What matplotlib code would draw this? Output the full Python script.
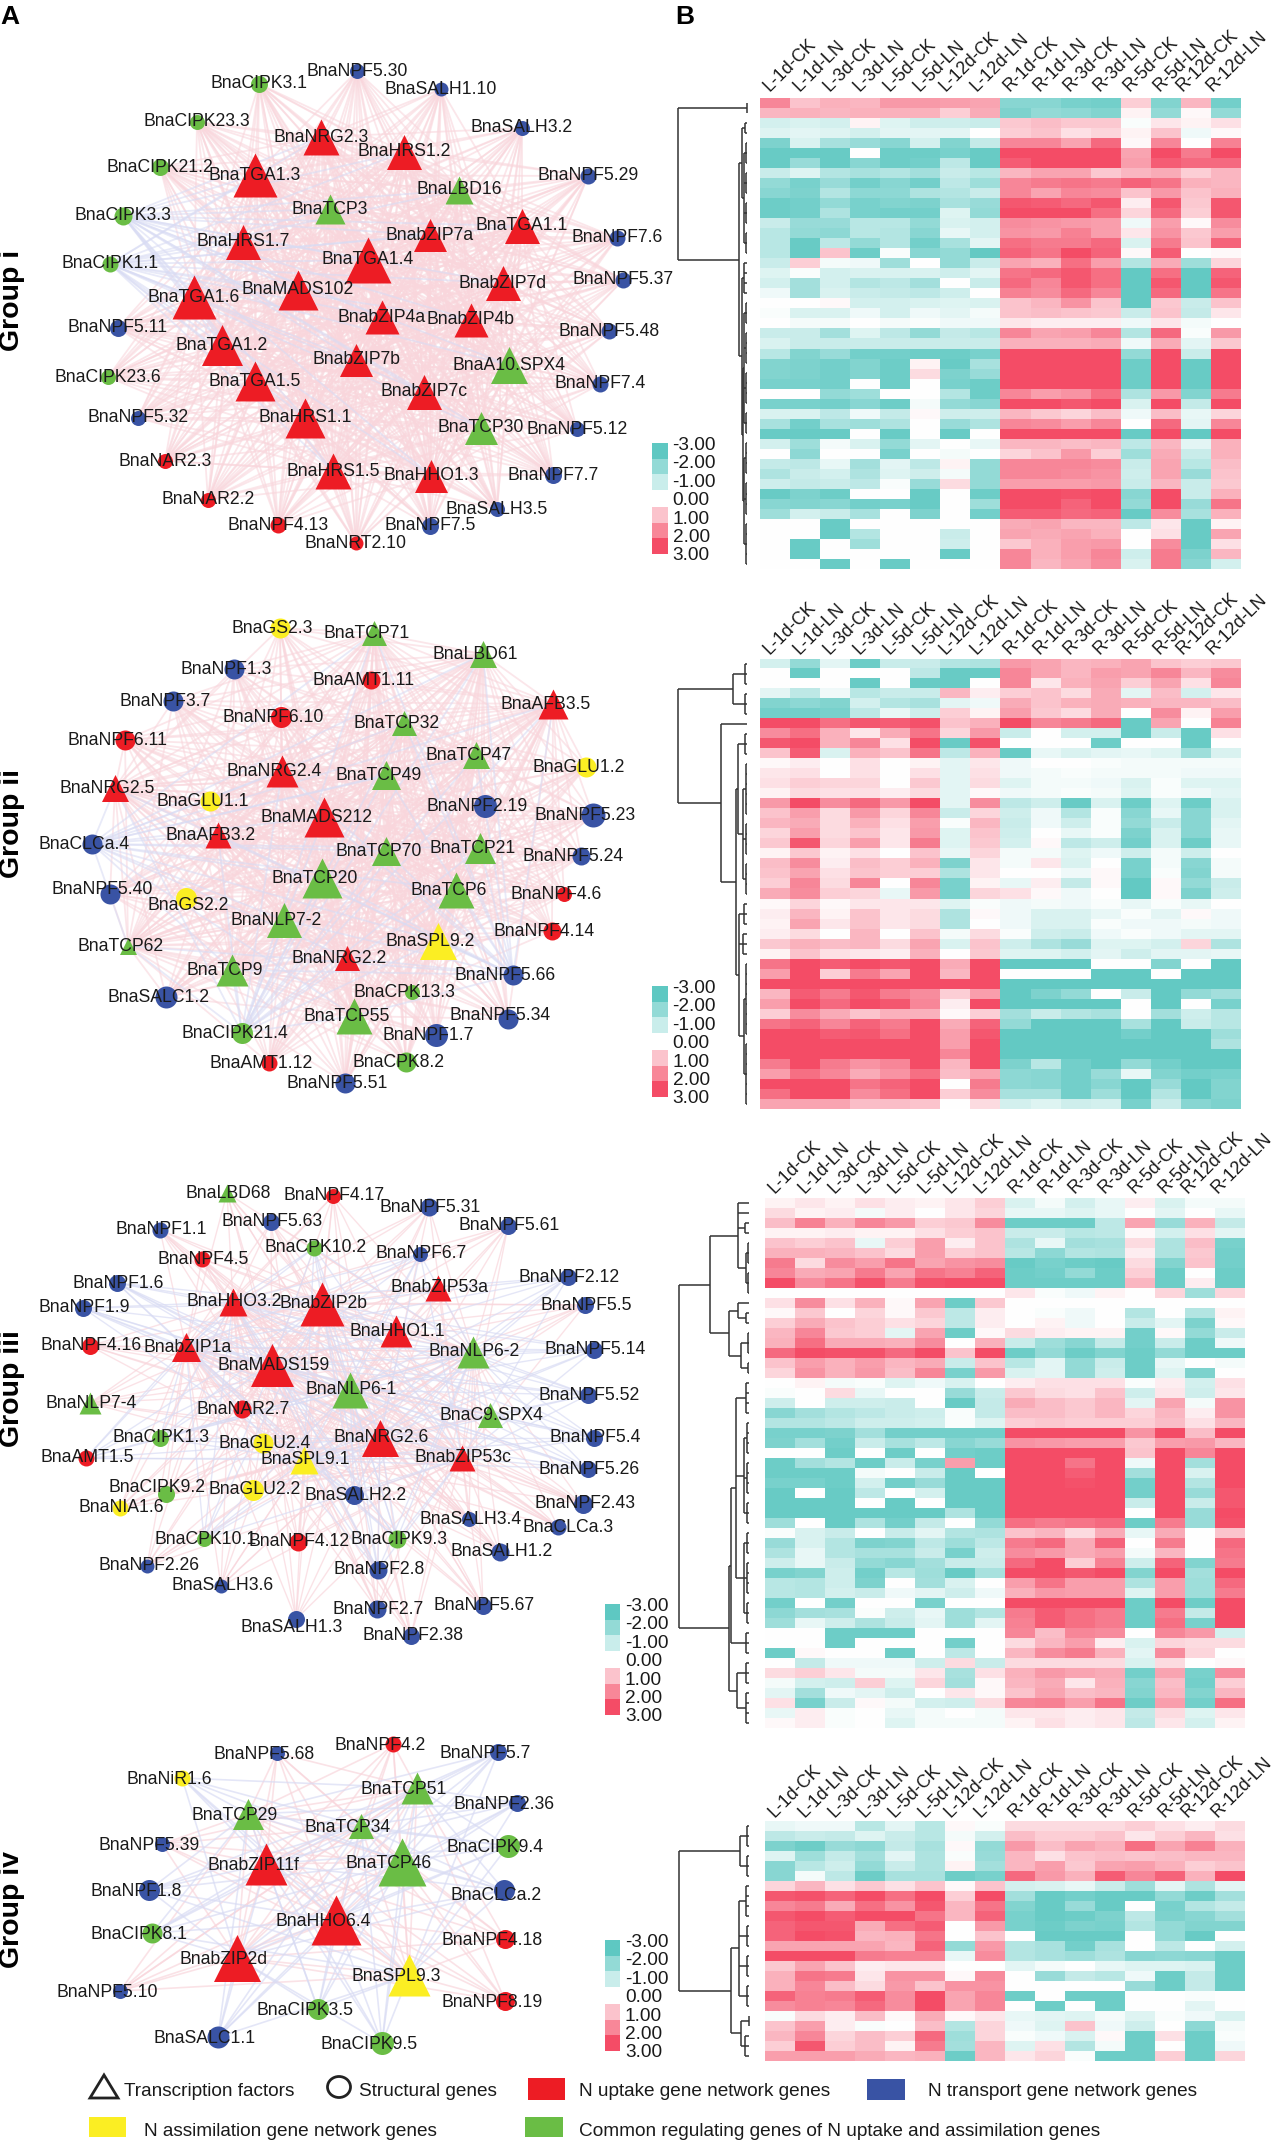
import matplotlib
matplotlib.use('Agg')
import matplotlib.pyplot as plt
import numpy as np
from matplotlib.collections import LineCollection
from matplotlib.colors import LinearSegmentedColormap
from matplotlib.patches import Rectangle, Polygon, Ellipse

plt.rcParams['font.family'] = ['Liberation Sans', 'DejaVu Sans']

W, H = 1273, 2142

samples = ['L-1d-CK', 'L-1d-LN', 'L-3d-CK', 'L-3d-LN', 'L-5d-CK', 'L-5d-LN', 'L-12d-CK', 'L-12d-LN',
           'R-1d-CK', 'R-1d-LN', 'R-3d-CK', 'R-3d-LN', 'R-5d-CK', 'R-5d-LN', 'R-12d-CK', 'R-12d-LN']

# heatmap values, read by eye from the colours
heat_i = [
    [2,1,1.3,1.2,1.7,1.7,1.6,1.5,-2.2,-2.2,-2.5,-2.6,0.8,-2.3,1.2,-2.6],
    [1.2,1.3,1.2,1.3,1.3,1.3,0.8,1.4,-2.4,-2,-2.1,-2.3,0.2,-2,0.1,-2],
    [-0.8,-0.7,-0.8,0.2,-0.6,-0.9,-0.9,-1,0.9,1.1,0.9,0.9,-0.1,0.4,0.2,0.5],
    [-0.6,-0.5,-0.6,-0.8,-0.5,-0.5,-0.5,0,0.8,1,0.5,0.7,0.2,1,-0.3,0.1],
    [-2.4,-0.7,-1.6,-1.9,-2.2,-0.8,-2.3,-1.1,2,2,1.5,2.5,0.1,2,0,2.1],
    [-2.8,-2.8,-2.8,0,-2.7,-2.7,-2.5,-2.8,3,3,3,3,1.5,3,2.2,3],
    [-2.8,-1.9,-2.8,-2.2,-2.7,-2.6,-1.2,-2.8,2.7,3,3,3,1.6,2.7,2.5,2.5],
    [-1,-0.6,-1.4,-1.6,-1.4,-1.7,-1,-1.3,1.2,1.5,1.5,0.9,1.2,1.4,0.8,1.2],
    [-2,-2.5,-1.9,-2.6,-2.2,-2.6,-1.2,-1.8,2,2.2,2.3,2.2,2.6,2.3,1.3,1.2],
    [-2.2,-2.4,-1.4,-2.1,-2.1,-1.5,-1.4,-1,2,1.5,2,1.9,1,1.7,1,1.3],
    [-2.7,-2.6,-2,-2.5,-2.3,-2.4,-1.6,-1.9,2.8,2.7,2.5,2.8,0.3,2.8,0.9,2.8],
    [-2.7,-2.6,-1.5,-2.5,-2.6,-2.6,-0.6,-2,3,3,3,2.4,0.7,2.5,0.8,2.8],
    [-1,-1.9,-1.9,-1.3,-1.3,-2,-0.7,-0.8,1.9,1.8,1.7,1.6,-0.3,1.6,0.1,1.9],
    [-1.3,-2,-2.1,-1.3,-1.4,-2.2,-0.4,-0.8,1.8,1.7,2.1,1.6,0.4,1.8,0.9,1.6],
    [-1.3,-2.8,-1.2,-2,-1.4,-2.6,-1.6,-0.5,2.4,2.2,2.2,2.5,-0.7,2.2,1,2.6],
    [-1.3,-2.8,1,-2.7,-0.1,-2.2,-2,-2.9,2.6,2.3,3,2.6,0.1,2.7,0,0.1],
    [-1,0.8,-0.2,-0.3,-1.8,0,-2,-1,1.5,1.3,2.4,1.6,-1.4,1.4,-1.8,0.7],
    [-0.6,-0.1,-0.8,-0.7,-0.7,-0.7,-0.9,-0.5,2.3,2.5,2.8,2.4,-2.9,2.4,-2.9,2.6],
    [-0.8,-1.7,-0.8,-1.4,-1.2,-1.7,0,-1,2.5,2,2.8,2.4,-2.9,2.8,-2.9,2.8],
    [-0.3,-1.7,-0.7,-1,-1.1,-1.2,-0.9,0,2.1,1.9,2.5,2,-2.9,2.5,-2.9,2.3],
    [0,0,0.1,-0.8,-0.8,-0.7,-0.6,-0.7,1,1.2,1.8,1,-2.9,0.9,-1,1],
    [-0.1,-0.7,-0.7,-0.3,-0.8,-0.3,-0.5,-0.2,1,1.1,1,0.9,-1,1,-1.1,0.4],
    [0,-0.2,-0.2,0,-0.2,-0.1,-0.3,-0.3,0.4,0.3,0.3,0.3,-0.3,0.4,-0.2,0],
    [-1,-1,-1.7,-0.6,-1.2,-2,-1.1,-1.3,2,1.5,1.6,2,-1.4,2.5,-0.1,1.7],
    [-0.7,-1,-1,-1,-1,-1,-1,-1,1.3,1.3,1.3,1.4,-0.3,1.4,-0.5,0.9],
    [-1.3,-2.3,-1.9,-2.6,-2.6,-2.7,-2.7,-2.5,3,3,3,3,-2,3,-1,3],
    [-2.3,-2.4,-2.6,-2.3,-2.7,0.2,-2.8,-1.6,3,3,3,3,-2.7,3,-2.8,3],
    [-2.3,-2.4,-2.6,-2.3,-2.7,0.6,-2.4,-1.9,3,3,3,3,-2.7,3,-2.8,3],
    [-2.5,-2.5,-2.6,0,-2.7,0,-2.5,-2.7,3,3,3,3,-2.7,3,-2.8,3],
    [0,0,-2,-1.8,0,0,-1.4,-2.7,2,1.6,1.8,2.4,-1.5,1.7,-2.3,2.2],
    [-2.5,-2.5,-2.6,-2.2,-2.7,-0.2,-2,-2.2,3,3,2.8,3,-0.7,3,-1.1,3],
    [-0.7,-0.7,-1.2,-0.3,-1.1,0.1,-0.9,-0.9,1.2,0.9,0.7,1.1,-0.3,1.1,-0.4,0.7],
    [-1.6,-2.6,-1.6,-1.8,-1.5,0,-1.9,-1.5,2,1.9,1.6,2,0,2.5,-0.5,2],
    [-2.8,-2.8,-2.8,0,-2.8,0,-2.8,0,3,3,3,3,-2.8,3,-2.9,3],
    [-0.8,-1.8,-0.2,-0.7,-2,-0.5,0,-0.4,1.2,1.2,1.1,1.2,-1.2,1.2,-0.5,1.3],
    [0,-2.1,0,0,-2.5,0,-0.2,0,0.7,1,1.7,0.8,-1.8,1.4,-1,1.3],
    [-1.1,-1.2,-0.4,-1.7,-0.5,-1.2,0.2,-2,2,2,2,1.9,-1,1.5,-1.3,1.1],
    [-1.5,-1,-0.8,-1.5,-0.6,-0.9,-0.2,-2,2,2,1.9,1.8,-0.9,1.5,-1.9,1],
    [-0.9,-1.1,-1,-1.2,-0.1,-1.9,0.6,-2,1.6,1.6,1.6,1.7,-1,1.2,-1,0.9],
    [-2.8,-2.4,-2.7,0,0,-2.8,0,-2.7,3,3,2.9,3,-2.2,3,-1,1.3],
    [-2.2,-2.3,-2.2,-2.6,-2.5,-2.8,0,-1.8,3,3,2.6,3,-2,3,-1.9,2.3],
    [-1.8,-0.8,-1,-1.6,0,-2.4,0,-2.6,2.7,2.7,2.5,2.6,-2.8,1.9,-1.6,1.3],
    [0,0,-2.8,0,0,0,0,0,1.4,1.5,1.2,1.2,-1.2,0.4,-2.8,0.2],
    [0,0,-2.8,-1.4,0,0,-1,0,1.5,1.4,1.5,1.3,0,0.5,-2.8,1.5],
    [0,-2.8,0,-1.8,0,0,-0.9,0,0.9,1.3,1.6,1.7,0,1.9,-2.8,0.5],
    [0,-2.8,0,0,0,0,-2.8,0,2,1.3,1.6,2,-0.9,2.2,-2.4,1.2],
    [0,0,-2.8,0,-2.8,0,0,0,2,1.2,1.5,1.9,-0.7,2.2,-2.2,-0.8],
]
heat_ii = [
    [-0.8,-2,-0.5,-2.7,-1,-1,-1.4,-1.5,1.7,1.5,1.2,1.3,1.5,1,0.8,0.9],
    [0,-2.8,0,0,0,-1.2,-2.8,-2.8,2,1.5,1.2,1.6,1.5,2,1.2,1.9],
    [0,0,0,-2.8,0,-2.8,-2.8,0,2,0.4,1.3,1.5,0.8,1.5,0.5,2],
    [-0.5,-1.2,-0.3,-1.3,-1,-1,1.2,0.3,0.8,1,0.6,1.4,-0.5,1.1,-0.8,0.4],
    [-2.3,-2.1,-2.3,-0.8,-1.4,-1.6,-0.5,-0.3,1.4,1,1.3,1.4,1.3,1.2,1.2,1.1],
    [-2.6,-2.6,-2.5,-1.2,-0.4,-0.9,0.8,0.2,1.6,0.9,0.6,1.4,0,1.9,0.2,1.6],
    [3,3,2.4,2.8,2.7,2.9,1,1.3,3,2,2.2,2.5,-2.8,1.5,0,2.1],
    [1.9,2.4,1.3,0.4,1.4,2.3,0.7,1.7,-1,0,-0.8,-0.8,-2.8,-1,-2.8,0.5],
    [2.8,3,1.3,2,0.5,3,-2.8,2.9,0,0,0,-2.7,0,0,-2.8,0],
    [1,2.7,-0.7,1.3,1,2.3,-1.2,1.3,-2.8,-0.4,-0.7,-0.5,-0.4,-0.6,-1.8,-0.7],
    [0.1,0.3,0,0.5,0,0.2,-0.5,0.4,-0.3,0,0,-0.1,-0.2,-0.2,-0.2,-0.2],
    [0.4,0.5,0,0.5,0,0.5,-0.5,0.5,-0.3,-0.2,-0.1,-0.2,-0.2,-0.2,-0.3,-0.3],
    [0.5,0.8,0.7,0.7,0,0.9,-0.5,0.6,-0.6,-0.2,-0.2,-0.3,-0.7,-0.1,-0.6,-0.6],
    [0.2,0.6,0.5,0.5,0.3,0.6,-0.5,0.1,-0.3,-0.2,-0.1,-0.2,-0.6,-0.1,-0.3,-0.5],
    [1.7,3,1.9,2.5,1.7,3,-0.5,1.9,-1.2,-0.9,-2.8,-0.7,-2.7,-0.6,-2.7,-0.7],
    [1,1.6,0.6,1.7,0.7,2,-1,0.7,-0.9,-0.3,-1.4,-0.1,-2.2,-0.4,-2.2,-0.7],
    [1.2,1.4,0.6,1.3,0.5,1.6,-0.1,1.2,-1,-0.3,-0.9,-0.1,-2,-1,-2.2,-0.5],
    [0.7,1.6,0.6,1,0.4,1.7,-0.6,1,-0.9,0,-0.4,-0.1,-2.4,-0.7,-2.2,-0.4],
    [0.9,2.8,0.7,1.6,0.4,2.2,-0.6,0.9,-0.8,0.1,-1.2,-0.9,-2.6,-0.7,-2.7,-0.4],
    [0.2,0.9,0.2,0.5,0,1,-0.4,0.7,-0.2,-0.2,-0.6,-0.3,-0.9,-0.2,-0.9,0],
    [1.1,1.9,0.3,1.1,0.8,1.3,-2.4,0.4,-0.2,0.4,-0.7,0,-2.5,-0.2,-2.2,-0.2],
    [1,1.5,0.5,1,0.8,0.8,-1.5,0.4,0,0,-0.3,0.1,-2.5,-0.1,-2.3,-0.2],
    [0.8,2,0.6,2,0,2,-2.5,0.2,-0.4,0.3,-1.1,0.1,-2.9,0.1,-2,-1],
    [1.4,1.9,0.8,0.7,-0.4,1.7,-2.5,0.7,0.5,0.1,-0.3,0,-2.9,0.1,-2.4,-0.9],
    [0.1,0.7,0.1,0.4,0.4,0.4,-0.6,-0.1,-0.3,-0.2,-0.3,-0.1,-0.4,-0.1,-0.4,0],
    [0.3,1.2,0.2,1,0.4,0.6,-1.5,0.1,-0.3,-0.7,-0.7,-0.4,-0.1,-0.5,0.1,-0.3],
    [0.2,1.5,0.4,1,0.4,0.6,-1.5,0,-0.3,-0.7,-0.7,-0.1,-0.3,-0.3,-0.2,-0.3],
    [0.3,0.6,0,1.2,0,1,-0.2,0.6,-0.1,-0.9,-1,-0.3,-0.1,-0.3,-0.5,-0.5],
    [0.9,1.3,1.1,1.2,0.6,1.5,-0.7,1,-0.9,-1.5,-1.9,-0.6,-0.6,-0.8,0.7,-1.5],
    [0.2,1,0.5,0.4,0.3,1.3,0,0.9,-0.6,-0.6,-0.8,-0.5,-0.9,-0.5,-0.5,-0.4],
    [2.3,3,2.7,3,2.8,3,1.4,3,-2.9,-2.9,-2.9,0,0,-2.3,0,-2.9],
    [1.6,3,0.8,2.2,1.5,3,1.2,3,0,0,0,-2.9,-2.9,0,-2.9,-2.9],
    [3,3,3,3,3,3,3,3,-2.9,-2.9,-2.9,-2.9,-2.9,-2.9,-2.9,-2.9],
    [1.2,2.7,2.2,2.8,2.2,1.9,0.8,1.6,-2.9,-2.4,-2,0,-1,-2.9,-2,-1.7],
    [1.6,3,2.5,3,2.8,2,0.3,3,-2.9,-2.9,-2.9,-2.9,0,-2.9,0,-2.5],
    [0.8,1.9,1.4,1,1.3,1.3,0.1,0.8,-1.7,-1,-1.4,-1.6,0,-1.7,-0.9,-1.3],
    [2.3,2.6,2,2.6,2.2,3,1.4,2.6,-2,-2.9,-2.9,-2.9,-1.6,-2.9,-1,-1.3],
    [3,3,2.7,2.8,2.4,3,1.6,2.8,-2.9,-2.9,-2.9,-2.9,-2.6,-2.9,-2.9,-1.8],
    [3,3,3,3,3,3,1.6,3,-2.9,-2.9,-2.9,-2.9,-2.9,-2.9,-2.9,-1.5],
    [3,3,3,3,3,3,2,3,-2.9,-2.9,-2.9,-2.9,-2.9,-2.9,-2.9,-2.9],
    [2.2,3,2.2,1.8,2,3,1.2,3,-2.4,-1.3,-2.6,-2.9,-2,-2.6,-2.9,-2.9],
    [1.6,2.4,2,1.4,1.8,2.4,1.1,1.5,-2.1,-2.2,-2.6,-1.9,-0.4,-2.3,-2.6,-2.5],
    [3,3,3,2.3,2.6,3,0,2.2,-2.1,-2.2,-2.6,-2.2,-2.9,-1.9,-2.9,-2.3],
    [2.4,3,3,1.9,2.4,3,0.8,1.9,-1.6,-1.6,-2.6,-1.8,-2.9,-1.4,-2.9,-2.3],
    [1.5,1.5,1.5,1.1,1.1,1,0,0.6,-0.8,-0.6,-0.9,-0.8,-2.5,-1,-2.2,-2.4],
]
heat_iii = [
    [0.2,0.4,0.2,0.5,0.3,0.2,0.4,0.8,-0.7,-0.2,-0.8,-0.4,0.3,-0.7,-0.2,-0.2],
    [0.6,0.2,0.3,-0.2,0.3,0,0.4,0.7,-0.4,-0.4,-0.6,-0.4,0,-0.5,0,-0.4],
    [1.1,2.1,1.3,2,1.7,0.8,0.9,1.9,-2.7,-2.7,-2.7,-1.2,1.5,-1.9,1.3,-1.1],
    [0.2,0.2,0.3,0.2,0.2,0.5,0.8,1,-1,-1,-1.3,-1.2,0.1,-0.8,0.5,-0.5],
    [1,0.8,1,-0.4,0.8,1.6,0.3,1,-1.5,-0.4,-1.7,-1.6,0.6,-1.5,1.1,-2.5],
    [1.3,1.3,1.2,1,0.6,1.6,0.8,1,-1.3,-2.1,-1.4,-1.5,0.3,-1.5,0.9,-2.6],
    [2.2,0.6,1.9,1.6,2.3,1.5,1.8,1.9,-2.8,-2.5,-2.7,-2.8,0.6,-2.3,1,-2.6],
    [2,1.4,1.5,2.2,1.5,2.3,2.1,2.6,-2.7,-2.6,-2,-2.7,0.8,-2.7,0,-2.7],
    [3,1.9,2.3,2.9,2.2,2.9,3,3,-2.7,-2.7,-2.7,-2.7,1.2,-2.7,0.3,-2.7],
    [0,0,0,0,0,0,0,0,0.4,-0.1,-0.3,0.2,0,0.7,-1.8,0.7],
    [0.5,1.9,0.5,1.3,0.1,1.5,-2.7,0.9,0,0,0,0,0,0,0,0],
    [0.1,0.9,0,0.7,0.1,0.9,-1.2,0.3,0,-0.1,-0.3,0,-1.4,0,-1.4,0.2],
    [0.8,1.4,1,0.8,0.5,0.7,-1.2,0.3,0,0.2,-0.3,0,-1,-0.5,-2.4,0.1],
    [1.2,2,0.9,0.8,-0.5,1.5,-2.7,0.1,0.6,0.3,0.2,0.2,-2.6,0.1,-2,-1],
    [1.3,2.4,1.4,1.4,1.3,1.9,0,1.3,-1,-1.8,-2.2,-1.1,-2.6,-1,-2.7,-0.3],
    [2.5,3,2.9,2.9,2.5,3,1,3,-2.7,-2,-2.7,-2.3,-2.7,-2,-2.7,-2.7],
    [1,1.6,1.3,1.6,1.2,1.4,-1,1,-1.3,-0.5,-2,-1,-2.7,-0.4,0,-0.2],
    [0.7,1.8,1.3,1.7,1.1,2,-2.5,1.7,-0.7,-0.5,-2,-0.9,-2.7,-0.6,-2.4,0],
    [0,0.2,-0.2,-0.1,-0.6,-0.3,-0.7,0,0.3,0.5,0.5,0.5,-0.1,0.3,-0.8,0.5],
    [-0.1,0,0.6,-0.4,0,0,-1.9,-1,0.9,0.6,0.5,1,-0.9,0.4,-0.9,0.4],
    [-0.9,0,-0.9,-0.9,-1,0,-2.8,-1.1,1.4,1.1,0.9,1.2,-0.5,1.5,-0.2,1.8],
    [-2.2,-1.7,-1.4,-1.2,-1,-0.9,-0.1,-1.1,1.1,1.1,0.9,1.2,0.7,1.2,0.3,1.8],
    [-1.4,-1.4,-1.2,-0.9,-0.9,-0.8,-0.1,-0.6,0.8,0.9,0.8,0.8,0.8,1.1,0.5,1.2],
    [-2.5,-2.5,-2.4,-1.7,-2.6,-2.6,-2.6,-2.6,3,3,3,3,1.8,3,1.1,3],
    [-2.4,-1.7,-2.6,-1,-1.6,-1.2,-2.2,-1.9,1.8,1.7,1.6,1.6,0.9,1.6,1.7,1.2],
    [0,0,-2.7,0,-2.7,0,-2.6,-2.7,3,3,3,3,1,3,2,3],
    [-2.7,-1.7,-1.4,-2.7,-1,-2.5,1.6,-2.7,3,3,2.3,3,-0.3,3,-1.7,3],
    [-2.7,-2.7,-2.7,-0.2,0,-1,-2.8,0,3,3,2.7,3,-1.7,3,-0.7,3],
    [-2.5,-2.5,-2.7,-0.8,-2.6,-1.9,-2.8,-2.8,3,3,2.9,3,-2.6,3,-1.4,3],
    [-2.8,0,-2.8,-1.2,0,-0.8,-2.8,-2.8,3,3,3,3,-2.6,3,-1.9,2.8],
    [-2.8,-2.8,-2.8,0,-2.8,0,-2.8,-2.8,3,3,3,3,-1,3,-1,2.8],
    [-2.8,-2.8,-2.8,-2.8,-2.8,-2.8,-1.5,-2.8,3,3,3,3,0,3,-1.9,3],
    [-1.8,0,-2.8,-1.5,-2.6,-1.1,0,-2,2.4,2.2,2.3,2.5,-2.7,2.2,-1.9,2.9],
    [-0.1,-0.7,-1,0,-1,-0.5,-1.4,-1.5,1,1.2,0.6,1.4,-0.4,1.4,0,1],
    [-1.9,-0.7,-1.4,-2.4,-2.3,-1.2,-1.8,-1.2,2.2,2.5,1.4,2.6,0,2.2,0,2.5],
    [-1.5,-0.4,-1.4,-1.6,-1.6,-1,-2.5,-0.9,1.9,1.7,1.4,1.6,-0.2,1.2,0,2.3],
    [-0.9,-0.4,-1,-2,-2.2,-1.7,-1,-1,2.5,3,0.8,2.1,-0.9,2.6,-2.3,2.2],
    [-2.5,-2.3,-0.9,-2.6,-1.3,-1.8,-2.8,-1.6,3,3,2.8,3,-2.3,3,-1.7,3],
    [-1.3,-1.4,-0.9,-2.4,0,-1.7,-0.7,0,1.6,2.3,1.6,1.6,-1.5,1.6,-1.8,2.5],
    [-1.3,-1.4,-0.8,-1,-0.3,-0.5,-0.9,-0.3,1.3,1.7,1.6,1.6,-0.6,1.6,-1.8,2.2],
    [-2.6,0,-2.6,0,0,-2.5,0,0,3,3,3,3,-2.7,3,-2.7,3],
    [-2.1,-1.7,-1.6,-0.1,-0.9,-0.4,-1.8,-1.4,2.2,2.7,2.4,2.2,-2.7,2.2,-1.1,3],
    [-1.8,-0.4,-0.9,-1.5,-1,-0.5,-1.8,-0.5,2.1,2.7,2.4,2.2,-2.7,2.4,-2.5,3],
    [0,0,-2.7,-2.7,-2.7,0,0,0,2,1.1,2,1.9,0,2,1.7,-0.8],
    [0,0,-2.7,0,0,0,-2.6,0,0.6,1.2,1.6,0.3,-0.7,0.7,0.6,0.6],
    [-2.7,0.1,0,0,-2.7,0,-1.2,0,1.2,1.9,2.2,1.3,-0.5,1.9,0.7,0],
    [0,-1.1,-0.3,-0.3,-0.3,-0.9,0.6,-1,0.6,0.6,0.6,0.6,-0.7,0.6,0,0.1],
    [0.6,0.8,0.4,-0.2,-0.2,0.4,-1.6,0.5,1.3,1.7,1.5,1.4,-2.6,1.5,-2.5,1.9],
    [-0.2,-0.8,-0.9,0.8,-0.6,0.7,-1.7,0.1,1.2,1.4,0.4,1.3,-2.2,1.1,-2.6,0.8],
    [-0.5,-1.7,-0.3,-0.5,-0.9,0,0.4,0.1,1,1.5,1.1,1.2,-2.3,1.2,-2.3,1.2],
    [0.5,-2.5,-1,0.1,-0.2,-0.8,-0.9,0.6,2,2.1,1.6,2.3,-2.7,1.6,-2.6,2.4],
    [-0.4,0.3,-0.1,0,-0.4,-0.2,0,-0.2,0.4,0.4,0.3,0.4,-1.1,0.6,-0.6,0.4],
    [0.1,0.3,-0.1,0,-0.6,-0.2,-0.2,-0.2,0.2,0.5,0.3,0.4,-1.2,0.4,-0.8,0.2],
]
heat_iv = [
    [-0.4,-0.3,-0.3,-1.3,-0.5,-1.3,0.1,-0.1,0.6,0.6,0.6,0.6,0.8,0.5,0.3,0.6],
    [-1.2,-1,-1.1,-0.6,-1,-1.3,-0.2,-0.8,1.1,0.8,0.8,1,0.4,0.8,1.2,0.5],
    [-2.4,-2.7,-1.9,-2.1,-1.1,-1.6,0.1,-2,1.7,1.1,1.5,1.3,2.4,1.5,2.1,1.3],
    [-0.6,-1.8,-1.1,-1.7,-0.5,-1.5,-0.1,-1.9,1.2,0.5,1,1.1,1,1.1,1.2,1.2],
    [-2.2,-1.3,-0.9,-2,-1,-1.5,0.2,-1.7,1.2,1.6,0.9,1.5,1.6,1.3,0.8,1],
    [-2.2,-0.2,-1.2,-2.7,-1.6,-1.6,-2.7,-2.5,2.5,1.7,1.3,2.7,2,2.6,1.3,3],
    [0.7,1.2,0.5,0.9,0.5,1,0.1,1,-0.8,-0.7,-0.4,-1,-1.8,-0.5,-1.5,-0.5],
    [2.8,2.9,2.6,3,2.4,3,0.8,3,-1.7,-2.8,-2.6,-2.8,-2.8,-2,-2.7,-1.7],
    [2,2.2,1.4,2.4,1.8,2.8,1.2,2.3,-2.3,-2.8,-1.9,-2.8,0,-2.5,-1.4,-1.1],
    [2.8,3,2.7,3,3,2.3,1.2,2.6,-2.5,-2.8,-2.7,-2.4,-1.2,-2.4,-2.2,-1.7],
    [2.6,2.8,2.8,1.4,2.4,2.7,0,1.7,-2.5,-2.7,-2.4,-2.5,-1.4,-2,-2.3,-2.3],
    [2.6,3,2.9,1.2,1.3,2.3,0,1,0,-2.8,-2.8,-2.8,0,-2,-2.8,0],
    [1.5,1.5,1.5,1.5,1.2,2.6,-2,1.7,-1.4,-1.6,-2.6,-1.6,0,-1.2,0,-0.8],
    [3,3,3,2.2,2.1,2.1,-0.4,1.9,-1.4,-1.6,-1.8,-1.5,-2.2,-2.1,-2.2,-2.7],
    [0.9,1.5,1,0.3,0.4,0.4,0,0,-0.5,-0.2,0,-0.4,-0.6,-0.6,-0.7,-2.7],
    [1.3,2.3,2.2,0.4,1.8,1.8,0.1,1.9,0,-1.9,-1.1,-1.3,-0.3,-2.7,-1.1,-2.7],
    [1.3,2,1.1,0.6,1.7,1,1.8,1.8,0,0,0,0,-1.9,-2.7,-1.1,-2.7],
    [2.6,2.1,2.2,2.7,1.9,3,1.5,2,-2.7,0,-2.7,-2.7,0,0,-0.1,0],
    [1.9,2.1,2,2.5,1.9,3,1.5,2,0,-2.7,0,-2.7,0,0,-0.5,0],
    [-0.1,0.6,0.3,1.1,0.1,1.4,0.1,0.4,-0.4,-0.5,-0.6,-0.2,-0.6,-0.1,-0.3,-0.7],
    [1,1.6,0.3,-0.1,0,1.1,-1.4,0.7,-0.3,-0.6,1,-0.3,-0.9,0,-2.1,-0.2],
    [1.2,2,0.7,1.1,0.8,2.5,-1.8,0.7,-0.1,-0.3,-0.7,0.1,-2.7,0.5,-2.7,-0.1],
    [0.8,2.8,0.8,1.1,0.2,2.2,-1.7,1.2,-0.6,0.5,-1.4,-0.2,-2.7,0,-2.7,-0.3],
    [1.6,1.6,1.6,1.4,1.2,1.3,-2.7,1.2,0.4,0.7,-0.1,-2.7,-2.7,0.8,-2.7,0.7],
]

# network nodes: name, position, size, category (r/b/g/y); TF genes are the triangles
genes_i = ['BnaNPF5.30','BnaSALH1.10','BnaCIPK3.1','BnaCIPK23.3','BnaSALH3.2','BnaNRG2.3','BnaHRS1.2','BnaCIPK21.2',
           'BnaTGA1.3','BnaNPF5.29','BnaLBD16','BnaTCP3','BnaCIPK3.3','BnaTGA1.1','BnabZIP7a','BnaNPF7.6',
           'BnaHRS1.7','BnaCIPK1.1','BnaTGA1.4','BnaNPF5.37','BnabZIP7d','BnaMADS102','BnaTGA1.6','BnabZIP4a',
           'BnabZIP4b','BnaNPF5.11','BnaNPF5.48','BnaTGA1.2','BnabZIP7b','BnaA10.SPX4','BnaCIPK23.6','BnaTGA1.5',
           'BnaNPF7.4','BnabZIP7c','BnaHRS1.1','BnaNPF5.32','BnaTCP30','BnaNPF5.12','BnaNAR2.3','BnaHRS1.5',
           'BnaHHO1.3','BnaNPF7.7','BnaNAR2.2','BnaSALH3.5','BnaNPF4.13','BnaNPF7.5','BnaNRT2.10']
x_i = [357,441,259,197,522,321,404,160,255,588,459,330,123,522,430,617,243,110,368,623,503,298,194,382,
       471,118,609,222,356,509,108,255,600,424,305,138,481,577,165,333,431,553,208,497,278,430,356]
y_i = [71,89,84,122,128,137,152,167,175,176,190,209,216,226,235,238,242,264,260,280,283,290,297,317,
       320,328,331,345,360,365,377,381,384,392,418,418,428,429,461,471,476,475,500,509,525,526,543]
size_i = [15,14,17,15,15,36,35,17,44,16,28,30,18,35,33,16,35,16,46,16,35,40,44,34,
          34,17,16,41,33,37,15,40,16,35,40,15,33,15,15,36,33,17,15,15,16,17,14]
cat_i = list('bbggbrrgrbgggrrbrgrbrrrrrbbrrggrbrrbgbrrrbrbrbr')
tf_i = ['BnaNRG2.3','BnaHRS1.2','BnaTGA1.3','BnaLBD16','BnaTCP3','BnaTGA1.1','BnabZIP7a','BnaHRS1.7',
        'BnaTGA1.4','BnabZIP7d','BnaMADS102','BnaTGA1.6','BnabZIP4a','BnabZIP4b','BnaTGA1.2','BnabZIP7b',
        'BnaA10.SPX4','BnaTGA1.5','BnabZIP7c','BnaHRS1.1','BnaTCP30','BnaHRS1.5','BnaHHO1.3']

genes_ii = ['BnaGS2.3','BnaTCP71','BnaLBD61','BnaNPF1.3','BnaAMT1.11','BnaNPF3.7','BnaAFB3.5','BnaNPF6.10','BnaTCP32',
            'BnaNPF6.11','BnaTCP47','BnaGLU1.2','BnaNRG2.4','BnaTCP49','BnaNRG2.5','BnaGLU1.1','BnaNPF2.19','BnaNPF5.23',
            'BnaMADS212','BnaAFB3.2','BnaCLCa.4','BnaTCP70','BnaTCP21','BnaNPF5.24','BnaTCP20','BnaNPF5.40','BnaTCP6',
            'BnaNPF4.6','BnaGS2.2','BnaNLP7-2','BnaSPL9.2','BnaNPF4.14','BnaTCP62','BnaNRG2.2','BnaTCP9','BnaNPF5.66',
            'BnaSALC1.2','BnaCPK13.3','BnaTCP55','BnaNPF5.34','BnaCIPK21.4','BnaNPF1.7','BnaCPK8.2','BnaAMT1.12','BnaNPF5.51']
x_ii = [280,374,483,234,371,173,553,281,404,125,476,586,282,386,115,210,485,593,324,218,92,386,480,581,322,110,456,
        564,186,284,438,552,128,347,232,513,166,412,354,508,242,436,406,269,345]
y_ii = [628,633,654,669,680,701,704,717,723,740,755,767,771,775,788,801,806,815,817,835,844,851,848,856,878,894,890,
        894,898,920,941,931,946,958,970,975,997,992,1016,1019,1033,1035,1062,1063,1083]
size_ii = [20,25,27,20,18,20,30,21,25,20,27,20,32,29,27,20,23,24,40,26,20,29,31,18,40,20,36,
           15,21,35,37,18,17,25,32,20,22,15,36,20,21,23,20,16,20]
cat_ii = list('yggbrbrrgrgyrgrybbrrbggbgbgrygyrgrgbbggbgbgrb')
tf_ii = ['BnaTCP71','BnaLBD61','BnaAFB3.5','BnaTCP32','BnaTCP47','BnaNRG2.4','BnaTCP49','BnaNRG2.5',
         'BnaMADS212','BnaAFB3.2','BnaTCP70','BnaTCP21','BnaTCP20','BnaTCP6','BnaNLP7-2','BnaSPL9.2',
         'BnaTCP62','BnaNRG2.2','BnaTCP9','BnaTCP55']

genes_iii = ['BnaLBD68','BnaNPF4.17','BnaNPF5.31','BnaNPF5.63','BnaNPF5.61','BnaNPF1.1','BnaCPK10.2','BnaNPF6.7','BnaNPF4.5',
             'BnaNPF2.12','BnaNPF1.6','BnabZIP53a','BnaHHO3.2','BnabZIP2b','BnaNPF5.5','BnaNPF1.9','BnaHHO1.1','BnaNPF4.16',
             'BnabZIP1a','BnaNLP6-2','BnaNPF5.14','BnaMADS159','BnaNLP6-1','BnaNPF5.52','BnaNLP7-4','BnaNAR2.7','BnaC9.SPX4',
             'BnaNRG2.6','BnaCIPK1.3','BnaNPF5.4','BnaGLU2.4','BnaSPL9.1','BnabZIP53c','BnaAMT1.5','BnaNPF5.26','BnaGLU2.2',
             'BnaCIPK9.2','BnaSALH2.2','BnaNIA1.6','BnaNPF2.43','BnaSALH3.4','BnaCLCa.3','BnaCPK10.1','BnaNPF4.12','BnaCIPK9.3',
             'BnaSALH1.2','BnaNPF2.26','BnaNPF2.8','BnaSALH3.6','BnaNPF5.67','BnaNPF2.7','BnaSALH1.3','BnaNPF2.38']
x_iii = [227,333,429,271,508,160,314,420,202,568,117,438,233,322,585,83,396,90,186,473,594,272,350,588,90,242,490,
         380,160,594,263,304,462,86,588,253,166,354,120,583,469,558,204,298,397,500,147,378,221,483,377,296,411]
y_iii = [1193,1196,1207,1222,1226,1230,1248,1254,1259,1277,1283,1288,1302,1304,1305,1308,1331,1346,1347,1352,1350,1365,1390,1395,1403,1409,1415,
         1438,1438,1438,1443,1460,1458,1458,1469,1490,1494,1495,1508,1504,1519,1527,1539,1542,1539,1552,1566,1570,1586,1606,1609,1619,1636]
size_iii = [18,15,18,17,17,16,16,15,16,17,17,26,28,44,17,17,32,17,29,32,17,43,36,17,22,18,25,
            37,17,17,20,28,26,16,17,21,17,19,16,19,15,16,15,18,18,18,14,18,14,17,18,17,17]
cat_iii = list('grbbbbgbrbbrrrbbrrrgbrgbgrgrgbyyrrbygbybbbgrgbbbbbbbb')
tf_iii = ['BnaLBD68','BnabZIP53a','BnaHHO3.2','BnabZIP2b','BnaHHO1.1','BnabZIP1a','BnaNLP6-2','BnaMADS159',
          'BnaNLP6-1','BnaNLP7-4','BnaC9.SPX4','BnaNRG2.6','BnaSPL9.1','BnabZIP53c']

genes_iv = ['BnaNPF4.2','BnaNPF5.68','BnaNPF5.7','BnaNiR1.6','BnaTCP51','BnaNPF2.36','BnaTCP29','BnaTCP34','BnaNPF5.39',
            'BnaCIPK9.4','BnaTCP46','BnabZIP11f','BnaNPF1.8','BnaCLCa.2','BnaHHO6.4','BnaCIPK8.1','BnaNPF4.18','BnabZIP2d',
            'BnaSPL9.3','BnaNPF5.10','BnaNPF8.19','BnaCIPK3.5','BnaCIPK9.5','BnaSALC1.1']
x_iv = [393,277,498,182,417,517,248,361,162,508,402,266,149,504,336,152,505,237,409,120,505,318,382,218]
y_iv = [1744,1753,1752,1778,1788,1803,1814,1826,1844,1846,1862,1864,1890,1890,1920,1933,1939,1958,1975,1991,2001,2009,2043,2037]
size_iv = [16,15,17,16,32,17,31,25,15,23,48,42,21,21,50,20,19,47,42,15,19,21,23,22]
cat_iv = list('rbbygbggbggrbbrgrrybrggb')
tf_iv = ['BnaTCP51','BnaTCP29','BnaTCP34','BnaTCP46','BnabZIP11f','BnaHHO6.4','BnabZIP2d','BnaSPL9.3']

# hubs that send edges, and genes whose edges are blue
hubs_iii = ['BnaMADS159', 'BnabZIP2b', 'BnaNLP6-1', 'BnaNLP6-2', 'BnaNRG2.6', 'BnabZIP53c', 'BnabZIP1a', 'BnaHHO3.2', 'BnaSPL9.1']
blue_edges_i = ['BnaCIPK3.3', 'BnaCIPK1.1']
blue_edges_ii = ['BnaCIPK21.4', 'BnaNPF5.66', 'BnaCLCa.4']
blue_edges_iii = ['BnaNPF5.14', 'BnaNPF1.9', 'BnaNPF1.6', 'BnaCPK10.2', 'BnaCIPK1.3', 'BnaCPK10.1', 'BnaNPF5.26', 'BnaSALH2.2',
                  'BnaCIPK9.3', 'BnaNPF2.8', 'BnaNPF6.7', 'BnaNPF5.4', 'BnaAMT1.5', 'BnaNPF5.52', 'BnaNPF2.12']
blue_edges_iv = ['BnaCIPK9.4', 'BnaCLCa.2', 'BnaCIPK8.1', 'BnaNPF1.8', 'BnaSALC1.1', 'BnaCIPK3.5', 'BnaCIPK9.5',
                 'BnaNPF5.7', 'BnaNPF2.36', 'BnaNiR1.6']

# label offsets from the node, where the label sits away from the usual place
shift_i = {}
shift_ii = {'BnaNPF5.40': (-8, -5), 'BnaGS2.2': (2, 7), 'BnaNPF5.34': (-8, -4)}
shift_iii = {'BnaCIPK9.2': (-9, -6), 'BnaSALH1.3': (-4, 8), 'BnaCLCa.3': (10, 0)}
shift_iv = {'BnaCLCa.2': (-8, 6)}

# dendrograms: [x of the vertical, children...], an int child is that many leaves
tree_i = [678, [747, 2],
          [739, [742, [745, 2], [744, [746, 3], [746, 3], [746, 3], [746, 3]]],
           [742, [744, 2, 2],
            [743, [744, [746, 3], [746, 4], [746, 4], [746, 3]], [744, [746, 4], [746, 4], [746, 5]]]]]]
tree_ii = [678, [733, [745, 3], [738, [745, 3]]],
           [721, 1, [736, [738, [745, 3], [743, [746, 6], [746, 4], [746, 4]]],
                     [739, [744, 3], [743, 3], [744, [746, 8], [746, 7]]]]]]
tree_iii = [679, [710, [738, 2, [745, 2], [746, [748, 3], [748, 3]]],
                  [729, [738, 1, [746, 2]], [741, [748, 3], [748, 2]]]],
            [729, [731, [736, [746, 4], [744, [747, 4], [747, 4], [747, 3]], [744, [747, 3], [747, 4], [747, 3]]],
                   [746, 3]],
             [737, [746, 3], [746, 4]]]]
tree_iv = [679, [740, [747, 3], [747, 3]],
           [731, [739, [746, 4], [747, 3], [747, 3], [747, 3]], [741, [749, 2], [745, 3]]]]

legend_vals_neg = [-3, -2, -1]
legend_vals_pos = [1, 2, 3]
legend_ticks = ['-3.00', '-2.00', '-1.00', '0.00', '1.00', '2.00', '3.00']

colors = {'r': '#ED1C24', 'b': '#3953A4', 'g': '#6ABD45', 'y': '#FBEE23'}
cmap = LinearSegmentedColormap.from_list('tealred', ['#5EC8C2', '#FFFFFF', '#F44C66'])
text_c = '#1a1a1a'
label_fs = 12.7
# the 12d labels sit a little left of the others
tick_nudge = [0, 0, 0, 0, 0, 0, -0.12, -0.12, 0, 0, 0, 0, 0, 0, -0.25, -0.25]

fig = plt.figure(figsize=(W / 100, H / 100), dpi=100)
ax = fig.add_axes([0, 0, 1, 1])
ax.set_xlim(0, W)
ax.set_ylim(H, 0)
ax.axis('off')


def draw_net(genes, xs, ys, sizes, cats, tfs, hubs, blue, shift, dx, dy, edge_lw, edge_alpha):
    pink_seg, blue_seg = [], []
    for i, g in enumerate(genes):
        if g not in hubs:
            continue
        for j, h in enumerate(genes):
            if i == j or (h in hubs and j < i):
                continue
            seg = [(xs[i], ys[i]), (xs[j], ys[j])]
            if h in blue:
                blue_seg.append(seg)
            else:
                pink_seg.append(seg)
    ax.add_collection(LineCollection(pink_seg, colors='#F9D6DC', linewidths=edge_lw, alpha=edge_alpha, zorder=1))
    ax.add_collection(LineCollection(blue_seg, colors='#D9DCF4', linewidths=edge_lw, alpha=edge_alpha, zorder=1))
    for g, x, y, s, c in zip(genes, xs, ys, sizes, cats, strict=True):
        ax.scatter(x, y, s=(s * 0.72) ** 2, marker='^' if g in tfs else 'o', color=colors[c], linewidths=0, zorder=2)
        ox, oy = shift.get(g, (dx, dy))
        ax.text(x + ox, y + oy, g, fontsize=label_fs, color=text_c, ha='center', va='center', zorder=3)


def draw_tree(node, leaf_x, y0, row_h, cursor, segs):
    x = node[0]
    ys = []
    for child in node[1:]:
        if isinstance(child, int):
            for k in range(child):
                y = y0 + (cursor[0] + 0.5) * row_h
                cursor[0] += 1
                segs.append([(x, y), (leaf_x, y)])
                ys.append(y)
        else:
            cy, cx = draw_tree(child, leaf_x, y0, row_h, cursor, segs)
            segs.append([(x, cy), (cx, cy)])
            ys.append(cy)
    segs.append([(x, min(ys)), (x, max(ys))])
    return (min(ys) + max(ys)) / 2, x


def draw_heat(values, left, top, right, bottom, tree, leaf_x, pad, leg_x, leg_top):
    data = np.array(values)
    hax = fig.add_axes([left / W, 1 - bottom / H, (right - left) / W, (bottom - top) / H])
    hax.imshow(data, cmap=cmap, vmin=-3, vmax=3, aspect='auto', interpolation='nearest')
    hax.set_xticks(np.arange(16) - 0.17 + np.array(tick_nudge))
    hax.set_xticklabels(samples, rotation=45, ha='left', va='baseline', rotation_mode='anchor',
                        fontsize=12.9, color=text_c)
    hax.xaxis.tick_top()
    hax.tick_params(axis='x', length=0, pad=pad)
    hax.set_yticks([])
    for s in hax.spines.values():
        s.set_visible(False)

    segs = []
    row_h = (bottom - top) / data.shape[0]
    draw_tree(tree, leaf_x, top, row_h, [0], segs)
    ax.add_collection(LineCollection(segs, colors='#333333', linewidths=1.1, zorder=2))

    # colour key
    bw, bh = 15.5, 47 / 3
    for k, v in enumerate(legend_vals_neg):
        ax.add_patch(Rectangle((leg_x, leg_top + k * bh), bw, bh, color=cmap((v + 3) / 6), lw=0))
    for k, v in enumerate(legend_vals_pos):
        ax.add_patch(Rectangle((leg_x, leg_top + 64 + k * bh), bw, bh, color=cmap((v + 3) / 6), lw=0))
    for k, t in enumerate(legend_ticks):
        ax.text(leg_x + 20.5, leg_top + 2.5 + k * 18.4, t, fontsize=13.7, color=text_c, ha='left', va='center')


draw_net(genes_i, x_i, y_i, size_i, cat_i, tf_i, tf_i, blue_edges_i, shift_i, 0, 0, 1.3, 0.6)
draw_net(genes_ii, x_ii, y_ii, size_ii, cat_ii, tf_ii, tf_ii, blue_edges_ii, shift_ii, -7.5, 0.5, 1.3, 0.6)
draw_net(genes_iii, x_iii, y_iii, size_iii, cat_iii, tf_iii, hubs_iii, blue_edges_iii, shift_iii, 1.5, 0, 1.0, 0.7)
draw_net(genes_iv, x_iv, y_iv, size_iv, cat_iv, tf_iv, tf_iv, blue_edges_iv, shift_iv, -13, 1.5, 1.2, 0.7)

draw_heat(heat_i, 759.5, 98, 1240, 568.6, tree_i, 747, 4.5, 652, 443)
draw_heat(heat_ii, 759.5, 658.5, 1240, 1108.6, tree_ii, 747, 2.5, 652, 986)
draw_heat(heat_iii, 764.7, 1198.3, 1244.6, 1728, tree_iii, 749, 3, 604.5, 1604)
draw_heat(heat_iv, 764.7, 1821, 1244.6, 2060.7, tree_iv, 749, 2, 604.5, 1940)

# panel letters and group titles
ax.text(0, 24, 'A', fontsize=19, fontweight='bold', color='black', ha='left', va='baseline')
ax.text(675, 24, 'B', fontsize=19, fontweight='bold', color='black', ha='left', va='baseline')
for name, yc in zip(['Group i', 'Group ii', 'Group iii', 'Group iv'], [300, 824, 1389, 1910]):
    ax.text(12, yc, name, fontsize=20.5, fontweight='bold', color='black', rotation=90, ha='center', va='center')

# bottom legend
ax.add_patch(Polygon([(90, 2098), (118, 2098), (104, 2075)], fill=False, edgecolor='#222222', lw=2))
ax.add_patch(Ellipse((339, 2087), 23, 21, fill=False, edgecolor='#222222', lw=2))
ax.add_patch(Rectangle((528, 2078), 37, 22, color=colors['r'], lw=0))
ax.add_patch(Rectangle((867, 2079), 37.5, 21, color=colors['b'], lw=0))
ax.add_patch(Rectangle((89, 2117), 37, 20, color=colors['y'], lw=0))
ax.add_patch(Rectangle((525, 2117), 38, 20, color=colors['g'], lw=0))
ax.text(124, 2092, 'Transcription factors', fontsize=13.65, color=text_c, va='center')
ax.text(359, 2092, 'Structural genes', fontsize=13.65, color=text_c, va='center')
ax.text(579, 2092, 'N uptake gene network genes', fontsize=13.65, color=text_c, va='center')
ax.text(927.5, 2092, 'N transport gene network genes', fontsize=13.65, color=text_c, va='center')
ax.text(144, 2131, 'N assimilation gene network genes', fontsize=13.65, color=text_c, va='center')
ax.text(579, 2131, 'Common regulating genes of N uptake and assimilation genes', fontsize=13.65, color=text_c, va='center')

fig.savefig('out.png', dpi=100)
